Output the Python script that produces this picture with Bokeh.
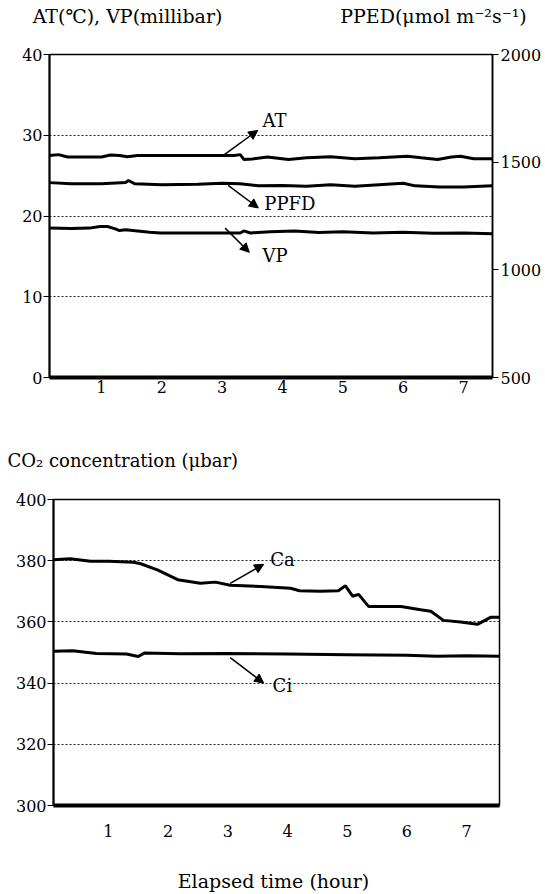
from bokeh.plotting import figure
from bokeh.models import Range1d, LinearAxis, Label, Arrow, NormalHead, FixedTicker
from bokeh.layouts import column
from bokeh.core.properties import value
from bokeh.embed import file_html
from bokeh.resources import INLINE

FONT = "DejaVu Serif"

# ---------------- data (top panel) ----------------
at_x = [0.14, 0.29, 0.44, 1.0, 1.15, 1.3, 1.43, 1.6, 2.2, 2.8, 3.2, 3.3, 3.36, 3.5, 3.75, 4.1, 4.4, 4.8, 5.2, 5.6, 6.07, 6.3, 6.57, 6.8, 6.95, 7.17, 7.48]
at_y = [27.5, 27.6, 27.3, 27.3, 27.55, 27.5, 27.35, 27.5, 27.5, 27.5, 27.5, 27.6, 27.0, 27.05, 27.3, 27.0, 27.2, 27.35, 27.1, 27.2, 27.4, 27.2, 27.0, 27.3, 27.4, 27.1, 27.1]

ppfd_x = [0.14, 0.5, 1.0, 1.4, 1.45, 1.55, 2.0, 2.6, 3.0, 3.3, 3.6, 4.0, 4.4, 4.8, 5.2, 5.6, 6.0, 6.2, 6.6, 7.0, 7.48]
ppfd_y = [1405, 1400, 1400, 1405, 1415, 1400, 1395, 1398, 1402, 1400, 1390, 1392, 1388, 1395, 1388, 1395, 1402, 1390, 1385, 1385, 1390]

vp_x = [0.14, 0.5, 0.8, 0.98, 1.1, 1.23, 1.3, 1.4, 1.8, 1.98, 2.6, 3.3, 3.36, 3.47, 3.8, 4.2, 4.6, 5.0, 5.5, 6.0, 6.5, 7.0, 7.48]
vp_y = [18.5, 18.45, 18.5, 18.7, 18.7, 18.4, 18.2, 18.3, 18.0, 17.9, 17.9, 17.9, 18.15, 17.9, 18.05, 18.15, 17.95, 18.05, 17.9, 18.0, 17.85, 17.9, 17.8]

# ---------------- data (bottom panel) ----------------
ca_x = [0.08, 0.36, 0.53, 0.7, 1.0, 1.42, 1.54, 1.82, 2.16, 2.54, 2.79, 3.04, 3.55, 4.05, 4.2, 4.55, 4.85, 4.97, 5.09, 5.19, 5.36, 5.9, 6.23, 6.4, 6.61, 6.9, 7.18, 7.4, 7.55]
ca_y = [380.3, 380.6, 380.2, 379.8, 379.8, 379.5, 379.0, 377.0, 373.8, 372.6, 373.0, 372.0, 371.6, 371.0, 370.2, 370.0, 370.2, 371.8, 368.4, 369.0, 365.0, 365.0, 364.0, 363.5, 360.5, 360.0, 359.2, 361.5, 361.5]

ci_x = [0.08, 0.4, 0.8, 1.3, 1.5, 1.6, 2.2, 3.0, 4.0, 5.0, 6.0, 6.5, 7.0, 7.55]
ci_y = [350.4, 350.6, 349.7, 349.5, 348.7, 349.8, 349.6, 349.7, 349.5, 349.3, 349.1, 348.8, 348.9, 348.8]

hour_ticks = [1, 2, 3, 4, 5, 6, 7]
left_ticks_top = [0, 10, 20, 30, 40]
right_ticks_top = [500, 1000, 1500, 2000]
left_ticks_bot = [300, 320, 340, 360, 380, 400]

W = 545


def header(height, items):
    h = figure(width=W, height=height, x_range=Range1d(0, W), y_range=Range1d(0, height),
               output_backend="svg", toolbar_location=None, frame_align=False,
               x_axis_location=None, y_axis_location=None,
               min_border_left=0, min_border_right=0, min_border_top=0, min_border_bottom=0)
    h.outline_line_color = None
    h.grid.visible = False
    h.background_fill_color = "white"
    h.border_fill_color = "white"
    for txt, x, y, align, size in items:
        h.text(x=[x], y=[y], text=[txt], text_font=value(FONT), text_font_size=size,
               text_baseline="middle", text_align=align, text_color="black")
    return h


def style(p, xt, yt, grid):
    p.background_fill_color = "white"
    p.border_fill_color = "white"
    p.outline_line_color = "black"
    p.outline_line_width = 1.5
    p.xgrid.visible = False
    p.ygrid.ticker = FixedTicker(ticks=grid)
    p.ygrid.grid_line_color = "#222222"
    p.ygrid.grid_line_dash = "2 2"
    p.ygrid.grid_line_width = 1
    p.xaxis.ticker = FixedTicker(ticks=xt)
    p.yaxis.ticker = FixedTicker(ticks=yt)
    for ax in list(p.xaxis) + list(p.yaxis):
        ax.major_label_text_font = FONT
        ax.major_label_text_font_size = "16px"
        ax.major_label_text_color = "black"
        ax.minor_tick_line_color = None
        ax.axis_line_color = "black"
        ax.major_tick_line_color = "black"
        ax.major_tick_in = 0
    p.yaxis.major_tick_out = 6
    p.yaxis.axis_line_width = 2
    p.yaxis.major_label_standoff = 1
    p.xaxis.major_tick_out = 0
    p.xaxis.axis_line_width = 4


# ---------------- header of top panel ----------------
head1 = header(40, [("AT(℃), VP(millibar)", 127, 25, "center", "19px"),
                    ("PPED(μmol m⁻²s⁻¹)", 433, 25, "center", "19px")])

# ---------------- top figure ----------------
top = figure(width=W, height=365, x_range=Range1d(0.14, 7.48), y_range=Range1d(0, 40),
             output_backend="svg", toolbar_location=None, frame_align=False,
             min_border_left=49, min_border_right=53, min_border_top=14, min_border_bottom=28)
top.extra_y_ranges = {"ppfd": Range1d(500, 2000)}
style(top, hour_ticks, left_ticks_top, [10, 20, 30])
top.xaxis.major_label_standoff = 3
rax = LinearAxis(y_range_name="ppfd", ticker=FixedTicker(ticks=right_ticks_top))
rax.major_label_text_font = FONT
rax.major_label_text_font_size = "16px"
rax.major_label_text_color = "black"
rax.minor_tick_line_color = None
rax.major_tick_in = 0
rax.major_tick_out = 6
rax.major_label_standoff = 2
rax.axis_line_width = 1.5
top.add_layout(rax, "right")

top.line(at_x, at_y, line_color="black", line_width=3)
top.line(ppfd_x, ppfd_y, line_color="black", line_width=3, y_range_name="ppfd")
top.line(vp_x, vp_y, line_color="black", line_width=3)

hd = dict(size=9, fill_color="black", line_color="black")
top.add_layout(Arrow(end=NormalHead(**hd), x_start=3.02, y_start=27.5, x_end=3.59, y_end=30.6, line_width=1.5))
top.add_layout(Arrow(end=NormalHead(**hd), x_start=3.1, y_start=23.8, x_end=3.6, y_end=21.0, line_width=1.5))
top.add_layout(Arrow(end=NormalHead(**hd), x_start=3.05, y_start=18.5, x_end=3.45, y_end=15.5, line_width=1.5))
for txt, x, y in [("AT", 3.67, 31.8), ("PPFD", 3.7, 21.5), ("VP", 3.67, 15.1)]:
    top.add_layout(Label(x=x, y=y, text=txt, text_font=FONT, text_font_size="18px",
                         text_baseline="middle", text_color="black"))

# ---------------- header of bottom panel ----------------
head2 = header(70, [("CO₂ concentration (μbar)", 7, 15, "left", "18px")])

# ---------------- bottom figure ----------------
bot = figure(width=W, height=419, x_range=Range1d(0.08, 7.55), y_range=Range1d(300, 400),
             output_backend="svg", toolbar_location=None, frame_align=False,
             min_border_left=53, min_border_right=46, min_border_top=24, min_border_bottom=82)
style(bot, hour_ticks, left_ticks_bot, [320, 340, 360, 380])
bot.xaxis.major_label_standoff = 19
bot.xaxis.axis_label = "Elapsed time  (hour)"
bot.xaxis.axis_label_text_font = FONT
bot.xaxis.axis_label_text_font_size = "19px"
bot.xaxis.axis_label_text_font_style = "normal"
bot.xaxis.axis_label_text_color = "black"
bot.xaxis.axis_label_standoff = 30

bot.line(ca_x, ca_y, line_color="black", line_width=3)
bot.line(ci_x, ci_y, line_color="black", line_width=3)
bot.add_layout(Arrow(end=NormalHead(**hd), x_start=3.04, y_start=372.6, x_end=3.6, y_end=378.8, line_width=1.5))
bot.add_layout(Arrow(end=NormalHead(**hd), x_start=3.04, y_start=348.3, x_end=3.6, y_end=340.0, line_width=1.5))
for txt, x, y in [("Ca", 3.71, 380.5), ("Ci", 3.75, 339.2)]:
    bot.add_layout(Label(x=x, y=y, text=txt, text_font=FONT, text_font_size="18px",
                         text_baseline="middle", text_color="black"))

page = column(head1, top, head2, bot, spacing=0)
open("out.html", "w").write(file_html(page, INLINE))
